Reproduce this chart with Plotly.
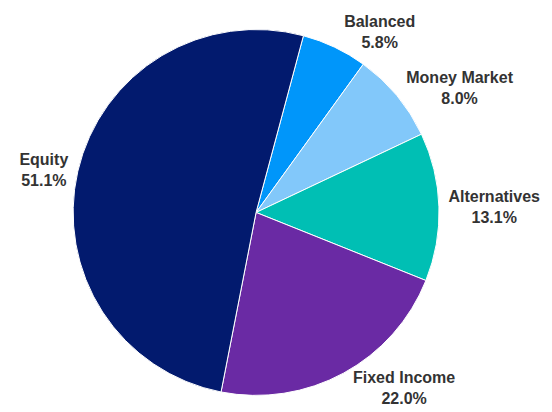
import plotly.graph_objects as go

labels = ["Balanced", "Money Market", "Alternatives", "Fixed Income", "Equity"]
values = [5.8, 8.0, 13.1, 22.0, 51.1]
colors = ["#0096fa", "#82c8fa", "#00bfb4", "#6a2aa4", "#021a6e"]

# figure sized so that, with the page's 8px body margin, it fills 552x412
W, H = 544, 404
cx, cy, r = 251, 203, 194

fig = go.Figure(go.Pie(
    labels=labels,
    values=values,
    sort=False,
    direction="clockwise",
    rotation=15,
    marker=dict(colors=colors, line=dict(color="white", width=1)),
    texttemplate="<b>%{label}<br>%{percent:.1%}</b>",
    textposition="outside",
    textfont=dict(family="Liberation Sans, Arial, sans-serif", size=16, color="#333333"),
    hoverinfo="skip",
    showlegend=False,
    domain=dict(x=[(cx - r) / W, (cx + r) / W], y=[1 - (cy + r) / H, 1 - (cy - r) / H]),
))

fig.update_layout(
    width=W, height=H,
    margin=dict(l=0, r=0, t=0, b=0),
    paper_bgcolor="white",
    plot_bgcolor="white",
)

fig.write_html("out.html")
